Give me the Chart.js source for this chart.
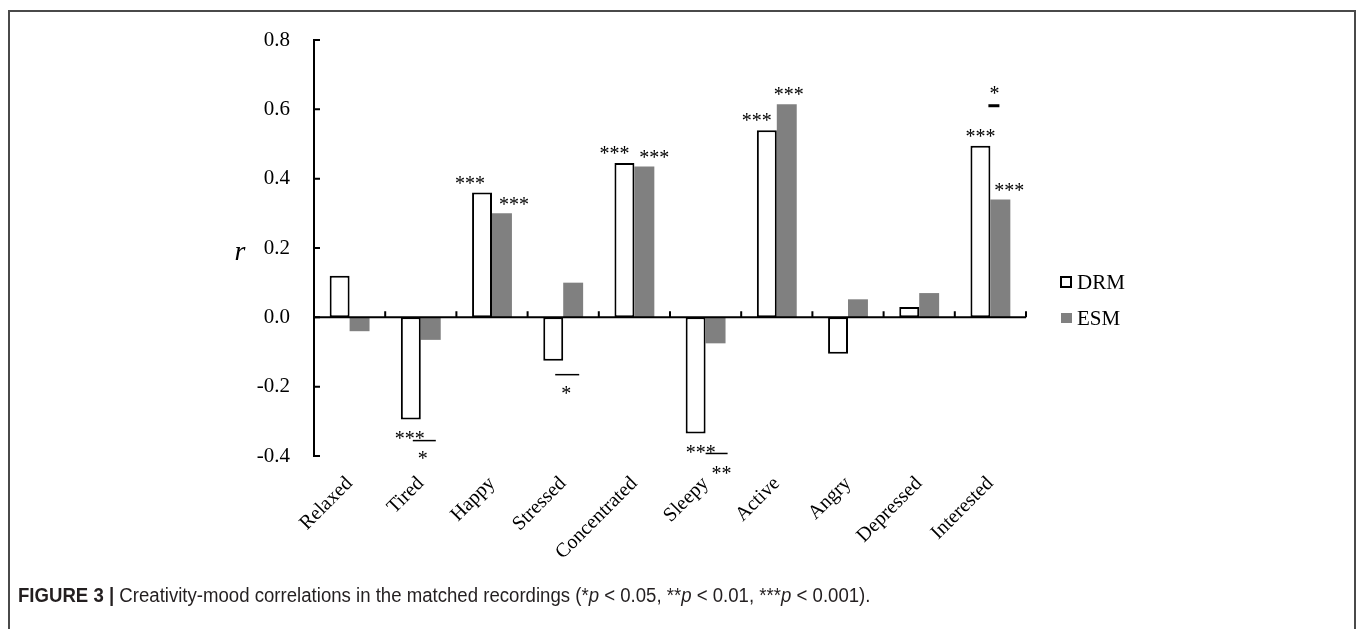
<!DOCTYPE html>
<html>
<head>
<meta charset="utf-8">
<script src="https://cdn.jsdelivr.net/npm/chart.js@4.4.0/dist/chart.umd.min.js"></script>
<style>
  html, body { margin: 0; padding: 0; background: #fff; }
  #wrap { position: relative; width: 1357px; height: 629px; overflow: hidden; }
  #frame { position: absolute; left: 8px; top: 10px; width: 1348px; height: 660px;
           border: 2px solid #4a4a4a; border-bottom: none; box-sizing: border-box; }
  #chart { position: absolute; left: 0; top: 0; }
  #caption { position: absolute; left: 18px; top: 584px; white-space: nowrap;
             transform: scaleX(0.93); transform-origin: left center;
             font: 20px "Liberation Sans Narrow", "Liberation Sans", Arial, sans-serif; color: #231f20; }
</style>
</head>
<body>
<div id="wrap">
  <div id="frame"></div>
  <canvas id="chart" width="1357" height="629"></canvas>
  <div id="caption"><b>FIGURE 3 |</b> Creativity-mood correlations in the matched recordings (*<i>p</i> &lt; 0.05, **<i>p</i> &lt; 0.01, ***<i>p</i> &lt; 0.001).</div>
</div>
<script>
// ---- data ----
const categories = ['Relaxed', 'Tired', 'Happy', 'Stressed', 'Concentrated', 'Sleepy', 'Active', 'Angry', 'Depressed', 'Interested'];
const drmValues = [0.12, -0.295, 0.36, -0.125, 0.445, -0.335, 0.54, -0.105, 0.03, 0.495];
const esmValues = [-0.04, -0.065, 0.30, 0.10, 0.435, -0.075, 0.615, 0.052, 0.07, 0.34];

// significance stars per bar, and for the DRM vs ESM difference
const drmStars = ['', '***', '***', '', '***', '***', '***', '', '', '***'];
const esmStars = ['', '', '***', '', '***', '', '***', '', '', '***'];
const diffStars = ['', '*', '', '*', '', '**', '', '', '', '*'];

const yMin = -0.4;
const yMax = 0.8;
const yStep = 0.2;

// ---- styling for the annotations ----
const SERIF = '"Liberation Serif", "Times New Roman", serif';
const drmStarDx = [0, -1, -12, 0, -10, 5, -10, 0, 0, 0];
const esmStarDx = [0, 0, 12, 0, 10, 0, 2, 0, 0, 9];
// line/star placement of the difference markers, relative to the DRM bar end
const diffLayout = {
  1: { lineDy: 21, x0: -8, x1: 15, starDy: 36, starDx: 2, lw: 1.5 },
  3: { lineDy: 14, x0: -8, x1: 16, starDy: 30, starDx: 3, lw: 1.5 },
  5: { lineDy: 20, x0: 0, x1: 22, starDy: 37, starDx: 16, lw: 1.5 },
  9: { lineDy: -40, x0: -2, x1: 9, starDy: -55, starDx: 4, lw: 3 }
};

function drawStars(ctx, text, x, yCenter) {
  ctx.font = '20px ' + SERIF;
  ctx.textAlign = 'center';
  ctx.textBaseline = 'middle';
  ctx.fillStyle = '#000';
  ctx.fillText(text, x, yCenter + 4);
}

const figurePlugin = {
  id: 'figureExtras',
  afterDatasetsDraw(chart) {
    const ctx = chart.ctx;
    const x = chart.scales.x;
    const y = chart.scales.y;
    const zeroY = y.getPixelForValue(0);
    ctx.save();
    ctx.strokeStyle = '#000';

    // zero line with upward boundary ticks
    ctx.lineWidth = 2;
    ctx.beginPath();
    ctx.moveTo(x.left, zeroY);
    ctx.lineTo(x.right, zeroY);
    for (let i = 1; i <= categories.length; i++) {
      const bx = x.getPixelForValue(i - 0.5);
      ctx.moveTo(bx, zeroY);
      ctx.lineTo(bx, zeroY - 6);
    }
    ctx.stroke();

    // inward ticks on the y axis
    ctx.beginPath();
    y.ticks.forEach(t => {
      const ty = y.getPixelForValue(t.value);
      ctx.moveTo(x.left, ty);
      ctx.lineTo(x.left + 6, ty);
    });
    ctx.stroke();

    // stars on the bars
    const drmMeta = chart.getDatasetMeta(0).data;
    const esmMeta = chart.getDatasetMeta(1).data;
    [[drmStars, drmValues, drmMeta, drmStarDx], [esmStars, esmValues, esmMeta, esmStarDx]].forEach(([stars, vals, meta, dx]) => {
      stars.forEach((s, i) => {
        if (!s) return;
        const bar = meta[i];
        const cy = vals[i] >= 0 ? bar.y - 12 : bar.y + 16;
        drawStars(ctx, s, bar.x + dx[i], cy);
      });
    });

    // difference markers
    diffStars.forEach((s, i) => {
      if (!s) return;
      const L = diffLayout[i];
      const cx = x.getPixelForValue(i);
      const ref = drmMeta[i].y;
      ctx.lineWidth = L.lw;
      ctx.beginPath();
      ctx.moveTo(cx + L.x0, ref + L.lineDy);
      ctx.lineTo(cx + L.x1, ref + L.lineDy);
      ctx.stroke();
      drawStars(ctx, s, cx + L.starDx, ref + L.starDy);
    });

    // axis title "r"
    ctx.font = 'italic 28px ' + SERIF;
    ctx.textAlign = 'center';
    ctx.textBaseline = 'alphabetic';
    ctx.fillStyle = '#000';
    ctx.fillText('r', 240, 260);

    // legend
    const lx = x.right + 34;
    const ds = chart.data.datasets;
    ctx.font = '21px ' + SERIF;
    ctx.textAlign = 'left';
    ctx.lineWidth = 2;
    ctx.strokeRect(lx + 1, 277, 10, 10);
    ctx.fillText(ds[0].label, lx + 17, 289);
    ctx.fillStyle = ds[1].backgroundColor;
    ctx.fillRect(lx + 1, 313, 11, 10);
    ctx.fillStyle = '#000';
    ctx.fillText(ds[1].label, lx + 17, 325);

    ctx.restore();
  }
};

new Chart(document.getElementById('chart').getContext('2d'), {
  type: 'bar',
  data: {
    labels: categories,
    datasets: [
      {
        label: 'DRM',
        data: drmValues,
        backgroundColor: '#FFFFFF',
        borderColor: '#000000',
        borderWidth: 2,
        borderSkipped: false,
        barPercentage: 1,
        categoryPercentage: 0.56
      },
      {
        label: 'ESM',
        data: esmValues,
        backgroundColor: '#808080',
        borderWidth: 0,
        barPercentage: 1,
        categoryPercentage: 0.56
      }
    ]
  },
  options: {
    responsive: false,
    animation: false,
    layout: { padding: { top: 40, right: 331, left: 0, bottom: 0 } },
    plugins: {
      legend: { display: false },
      tooltip: { enabled: false }
    },
    scales: {
      x: {
        grid: { display: false, drawTicks: false },
        border: { display: false },
        ticks: {
          color: '#000',
          font: { family: SERIF, size: 20 },
          minRotation: 45,
          maxRotation: 45,
          autoSkip: false,
          padding: 16
        },
        afterFit(scale) { scale.height = 629 - 456; }
      },
      y: {
        min: yMin,
        max: yMax,
        grid: { display: false, drawTicks: false },
        border: { display: true, color: '#000', width: 2 },
        ticks: {
          stepSize: yStep,
          color: '#000',
          font: { family: SERIF, size: 21 },
          padding: 24,
          callback: v => Number(v).toFixed(1)
        },
        afterFit(scale) { scale.width = 314; }
      }
    }
  },
  plugins: [figurePlugin]
});
</script>
</body>
</html>
